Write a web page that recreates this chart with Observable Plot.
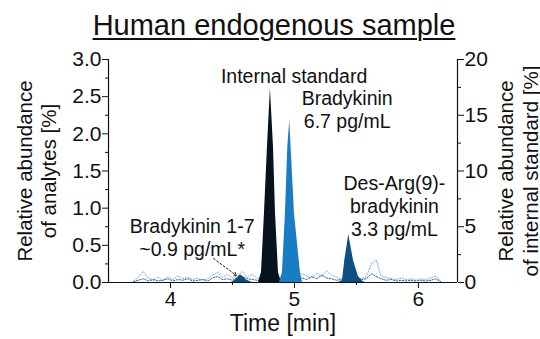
<!DOCTYPE html>
<html><head><meta charset="utf-8">
<script src="https://cdn.jsdelivr.net/npm/d3@7"></script>
<script src="https://cdn.jsdelivr.net/npm/@observablehq/plot@0.6"></script>
<style>
body{margin:0;background:#fff;font-family:"Liberation Sans",Arial,sans-serif;}
#title{width:540px;height:45px;line-height:50px;text-align:center;font-size:29px;color:#111;overflow:visible;padding-left:8px;box-sizing:border-box;white-space:nowrap}
#title span{text-decoration:underline;text-decoration-thickness:2px;text-underline-offset:3px}
</style></head><body>
<div id="title"><span>Human endogenous sample</span></div>
<div id="chart"></div>
<script>
// ---- axes / ticks ----
const xDomain = [3.5, 6.315];
const yDomain = [0, 3];
const xTicks = [4, 5, 6];
const xMinorTicks = [4.5, 5.5];
const yTicks = [0, 0.5, 1.0, 1.5, 2.0, 2.5, 3.0];
const yMinorTicks = [0.25, 0.75, 1.25, 1.75, 2.25, 2.75];
const rightTicks = [0, 5, 10, 15, 20];
const rightMinorTicks = [2.5, 7.5, 12.5, 17.5];
const rightMax = 20;

// ---- peaks (time [min], value) ----
const isTime = [4.71, 4.734, 4.758, 4.782, 4.806, 4.831, 4.847, 4.871, 4.895];
const isValue = [0, 0.9, 6.2, 12.1, 17.4, 12.1, 6.2, 0.9, 0]; // % of internal standard (right axis)
const bkTime = [4.879, 4.903, 4.927, 4.946, 4.962, 4.973, 5.0, 5.048, 5.065];
const bkValue = [0, 0.135, 0.928, 1.816, 2.18, 1.816, 0.928, 0.135, 0];
const desTime = [5.355, 5.387, 5.406, 5.438, 5.476, 5.516, 5.548, 5.57];
const desValue = [0, 0.027, 0.296, 0.646, 0.296, 0.08, 0.02, 0];
const bk17Time = [4.49, 4.506, 4.532, 4.565, 4.589, 4.613, 4.645, 4.66];
const bk17Value = [0, 0.01, 0.05, 0.103, 0.07, 0.035, 0.01, 0];

// ---- baseline noise traces ----
const noiseTime = [3.70,3.74,3.78,3.82,3.86,3.90,3.94,3.98,4.02,4.06,4.10,4.14,4.18,4.22,4.26,4.30,4.34,4.38,4.42,4.46,4.50,4.54,4.58,4.62,4.66,4.70,4.74,4.78,4.82,4.86,4.90,4.94,4.98,5.02,5.06,5.10,5.14,5.18,5.22,5.26,5.30,5.34,5.38,5.42,5.46,5.50,5.54,5.58,5.62,5.66,5.70,5.74,5.78,5.82,5.86,5.90,5.94,5.98,6.02,6.06,6.10,6.14,6.18];
const noiseLight = [0.01,0.07,0.15,0.06,0.03,0.07,0.03,0.08,0.04,0.09,0.05,0.07,0.04,0.06,0.03,0.05,0.10,0.14,0.07,0.11,0.06,0.09,0.15,0.07,0.11,0.06,0.05,0.04,0.05,0.06,0.07,0.05,0.06,0.08,0.12,0.09,0.06,0.13,0.08,0.16,0.10,0.07,0.05,0.06,0.04,0.06,0.05,0.08,0.25,0.30,0.08,0.07,0.05,0.04,0.06,0.04,0.05,0.03,0.05,0.04,0.06,0.09,0.01];
const noiseDark = [0.01,0.03,0.05,0.02,0.04,0.02,0.03,0.05,0.02,0.04,0.03,0.05,0.02,0.03,0.04,0.02,0.06,0.08,0.04,0.05,0.03,0.06,0.08,0.05,0.04,0.03,0.02,0.02,0.03,0.02,0.03,0.04,0.03,0.05,0.06,0.04,0.08,0.05,0.10,0.06,0.05,0.03,0.04,0.03,0.05,0.03,0.04,0.05,0.12,0.08,0.05,0.03,0.04,0.02,0.03,0.02,0.03,0.02,0.03,0.02,0.03,0.05,0.01];

// ---- annotations ----
const annText = ["Internal standard", "Bradykinin\n6.7 pg/mL", "Des-Arg(9)-\nbradykinin\n3.3 pg/mL", "Bradykinin 1-7\n~0.9 pg/mL*"];
const annTime = [4.997, 5.425, 5.806, 4.175];
const annValue = [2.785, 2.327, 1.036, 0.612];
const arrowFrom = [4.347, 0.323];
const arrowTo = [4.532, 0.094];

const yLeftLabel = "Relative abundance\nof analytes [%]";
const yRightLabel = "Relative abundance\nof internal standard [%]";
const xLabel = "Time [min]";

// ---- build tables ----
const toRightUnits = v => v * yDomain[1] / rightMax;
const rows = (t, v) => t.map((x, i) => ({t: x, v: v[i]}));
const isRows = rows(isTime, isValue.map(toRightUnits));
const bkRows = rows(bkTime, bkValue);
const desRows = rows(desTime, desValue);
const bk17Rows = rows(bk17Time, bk17Value);
const noiseRows = noiseTime.map((t, i) => ({t, light: noiseLight[i], dark: noiseDark[i]}));
const annRows = annText.map((s, i) => ({s, t: annTime[i], v: annValue[i]}));
const arrowRows = [{x1: arrowFrom[0], y1: arrowFrom[1], x2: arrowTo[0], y2: arrowTo[1]}];

const font = "'Liberation Sans', Arial, sans-serif";
const ink = "#111";

const chart = Plot.plot({
  width: 540, height: 294,
  marginTop: 14, marginBottom: 57, marginLeft: 108, marginRight: 83,
  style: {fontFamily: font, fontSize: "21px", color: ink, background: "#fff", overflow: "visible"},
  x: {domain: xDomain},
  y: {domain: yDomain},
  marks: [
    Plot.lineY(noiseRows, {x: "t", y: "light", stroke: "#7db4e2", strokeWidth: 1, strokeDasharray: "1.5,1.5"}),
    Plot.lineY(noiseRows, {x: "t", y: "dark", stroke: "#2c6797", strokeWidth: 1, strokeDasharray: "1.5,1.5"}),
    Plot.areaY(bk17Rows, {x: "t", y: "v", fill: "#0c4e80"}),
    Plot.areaY(isRows, {x: "t", y: "v", fill: "#06121d"}),
    Plot.areaY(bkRows, {x: "t", y: "v", fill: "#1a7dc4"}),
    Plot.areaY(desRows, {x: "t", y: "v", fill: "#0b5185"}),
    Plot.ruleY([yDomain[0]], {stroke: ink, strokeWidth: 1.2}),
    Plot.ruleX(xDomain, {stroke: ink, strokeWidth: 1.2}),
    Plot.axisX({ticks: xTicks, tickFormat: d3.format("d"), tickSize: 6, tickPadding: 3, fontSize: 21, label: null, stroke: ink}),
    Plot.axisX({ticks: xMinorTicks, tickSize: 3, tickFormat: () => "", label: null, stroke: ink}),
    Plot.axisY({anchor: "left", ticks: yTicks, tickFormat: d3.format(".1f"), tickSize: 6, tickPadding: 1, fontSize: 21, label: null, stroke: ink}),
    Plot.axisY({anchor: "left", ticks: yMinorTicks, tickSize: 3, tickFormat: () => "", label: null, stroke: ink}),
    Plot.axisY({anchor: "right", ticks: rightTicks.map(toRightUnits), tickFormat: d => String(Math.round(d * rightMax / yDomain[1])), tickSize: 6, tickPadding: 1, fontSize: 21, label: null, stroke: ink}),
    Plot.axisY({anchor: "right", ticks: rightMinorTicks.map(toRightUnits), tickSize: 3, tickFormat: () => "", label: null, stroke: ink}),
    Plot.text([yLeftLabel], {frameAnchor: "left", text: d => d, rotate: -90, dx: -72, fontSize: 20.5, lineHeight: 1.13, textAnchor: "middle", lineAnchor: "middle", fill: ink}),
    Plot.text([yRightLabel], {frameAnchor: "right", text: d => d, rotate: -90, dx: 60, fontSize: 20.5, lineHeight: 1.2, textAnchor: "middle", lineAnchor: "middle", fill: ink}),
    Plot.text([xLabel], {frameAnchor: "bottom", text: d => d, dy: 41, fontSize: 23, textAnchor: "middle", lineAnchor: "middle", fill: ink}),
    Plot.text(annRows, {x: "t", y: "v", text: "s", fontSize: 19.5, lineHeight: 1.18, lineAnchor: "middle", fill: ink}),
    Plot.arrow(arrowRows, {x1: "x1", y1: "y1", x2: "x2", y2: "y2", stroke: "#222", strokeWidth: 1, strokeDasharray: "2,2", headLength: 5})
  ]
});
document.getElementById("chart").appendChild(chart);
</script>
</body></html>
